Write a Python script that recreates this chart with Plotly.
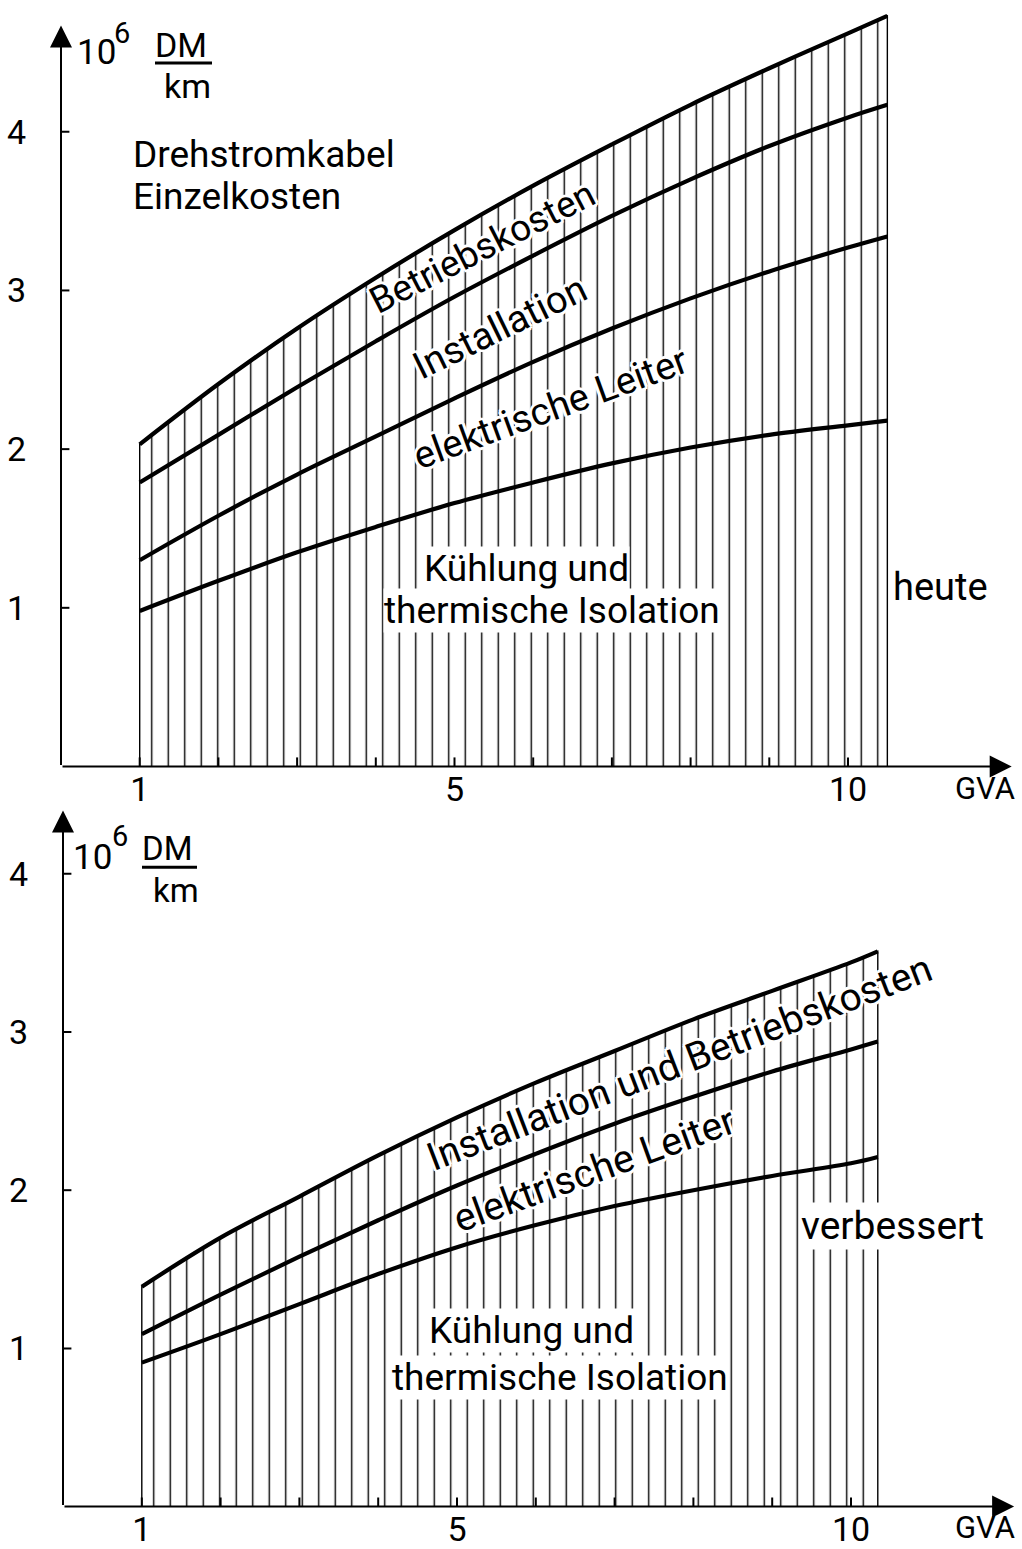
import plotly.graph_objects as go

# ---------------- data ----------------
gva_top = [1, 2, 3, 4, 5, 6, 7, 8, 9, 10, 10.5]
betrieb_top = [2.03, 2.41, 2.76, 3.08, 3.38, 3.66, 3.92, 4.17, 4.40, 4.62, 4.73]
install_top = [1.79, 2.09, 2.39, 2.68, 2.96, 3.22, 3.47, 3.70, 3.91, 4.09, 4.17]
leiter_top = [1.30, 1.58, 1.84, 2.08, 2.32, 2.55, 2.76, 2.95, 3.12, 3.27, 3.34]
kuehl_top = [0.98, 1.17, 1.35, 1.51, 1.66, 1.79, 1.91, 2.01, 2.09, 2.15, 2.18]

gva_bot = [1, 2, 3, 4, 5, 6, 7, 8, 9, 10, 10.34]
instbetr_bot = [1.39, 1.70, 1.96, 2.22, 2.46, 2.68, 2.88, 3.08, 3.26, 3.44, 3.51]
leiter_bot = [1.09, 1.34, 1.58, 1.81, 2.03, 2.23, 2.42, 2.59, 2.75, 2.89, 2.94]
kuehl_bot = [0.91, 1.09, 1.28, 1.47, 1.64, 1.78, 1.90, 2.00, 2.09, 2.17, 2.21]

y_tickvals = [1, 2, 3, 4]
x_tickvals = [1, 5, 10]
x_minor_ticks = [1, 2, 3, 4, 5, 6, 7, 8, 9, 10]

FONT = "Roboto"
W, H = 1022, 1549
HALO = ("2px 0 0 white, -2px 0 0 white, 0 2px 0 white, 0 -2px 0 white, "
        "2px 2px 0 white, -2px -2px 0 white, 2px -2px 0 white, -2px 2px 0 white, "
        "3px 0 0 white, -3px 0 0 white, 0 3px 0 white, 0 -3px 0 white")

fig = go.Figure()


def add_panel(xa, ya, gva, top, curves):
    # hatched area (vertical lines) from 0 up to the top curve
    fig.add_trace(go.Scatter(
        x=[gva[0]] + gva + [gva[-1]], y=[0] + top + [0],
        xaxis=xa, yaxis=ya, mode="lines", fill="toself",
        line=dict(color="black", width=1.4),
        fillcolor="white",
        fillpattern=dict(shape="|", size=16.5, solidity=0.085,
                         fgcolor="black", bgcolor="white", fillmode="replace"),
        hoverinfo="skip", showlegend=False))
    for c in [top] + curves:
        fig.add_trace(go.Scatter(
            x=gva, y=c, xaxis=xa, yaxis=ya, mode="lines",
            line=dict(color="black", width=4.2, shape="spline", smoothing=1.0),
            hoverinfo="skip", showlegend=False))
    # tick marks crossing the axes
    fig.add_trace(go.Scatter(
        x=x_minor_ticks, y=[0] * len(x_minor_ticks), xaxis=xa, yaxis=ya,
        mode="markers", marker=dict(symbol="line-ns", size=13,
                                    line=dict(color="black", width=2)),
        hoverinfo="skip", showlegend=False))
    fig.add_trace(go.Scatter(
        x=[0] * len(y_tickvals), y=y_tickvals, xaxis=xa, yaxis=ya,
        mode="markers", marker=dict(symbol="line-ew", size=12,
                                    line=dict(color="black", width=2)),
        hoverinfo="skip", showlegend=False))


add_panel("x", "y", gva_top, betrieb_top, [install_top, leiter_top, kuehl_top])
add_panel("x2", "y2", gva_bot, instbetr_bot, [leiter_bot, kuehl_bot])

axis_common = dict(showgrid=False, zeroline=False, showline=False, ticks="",
                   tickfont=dict(family=FONT, size=34, color="black"))

fig.update_layout(
    width=W, height=H, margin=dict(l=0, r=0, t=0, b=0),
    paper_bgcolor="white", plot_bgcolor="white", showlegend=False,
    xaxis=dict(domain=[61 / W, 1020 / W], range=[0, (1020 - 61) / 78.7],
               tickvals=x_tickvals, ticklabelstandoff=-1, anchor="y", **axis_common),
    yaxis=dict(domain=[1 - 768 / H, 1 - 5 / H], range=[0, (768 - 5) / 159.0],
               tickvals=y_tickvals, ticklabelstandoff=34, anchor="x", **axis_common),
    xaxis2=dict(domain=[63 / W, 1020 / W], range=[0, (1020 - 63) / 78.8],
                tickvals=x_tickvals, ticklabelstandoff=-1, anchor="y2", **axis_common),
    yaxis2=dict(domain=[1 - 1509.5 / H, 1 - 790 / H], range=[0, (1509.5 - 790) / 158.5],
                tickvals=y_tickvals, ticklabelstandoff=34, anchor="x2", **axis_common),
)

ann = []


def arrow(xr, yr, x, y):
    ann.append(dict(xref=xr, yref=yr, axref=xr, ayref=yr, x=x, y=y, ax=0, ay=0,
                    text="", showarrow=True, arrowhead=2, arrowsize=2.2,
                    arrowwidth=2, arrowcolor="black", standoff=0))


arrow("x", "y", 0, 4.67)
arrow("x", "y", 12.08, 0)
arrow("x2", "y2", 0, 4.40)
arrow("x2", "y2", 12.07, 0)


def label(xr, yr, x, y, text, size=36, angle=0, xanchor="center", bg=None, halo=False):
    font = dict(family=FONT, size=size, color="black")
    if halo:
        font["shadow"] = HALO
    d = dict(xref=xr, yref=yr, x=x, y=y, text=text, showarrow=False,
             textangle=angle, xanchor=xanchor, yanchor="middle",
             font=font, borderpad=0)
    if bg:
        d["bgcolor"] = bg
    ann.append(d)


# top panel
label("x", "y", 0.90, 3.855, "Drehstromkabel", size=37, xanchor="left")
label("x", "y", 0.90, 3.59, "Einzelkosten", size=37, xanchor="left")
label("x", "y", 5.35, 3.27, "Betriebskosten", size=37, angle=-27, halo=True)
label("x", "y", 5.58, 2.77, "Installation", size=38, angle=-26, halo=True)
label("x", "y", 6.22, 2.26, "elektrische Leiter", size=38, angle=-20, halo=True)
label("x", "y", 5.91, 1.245, "Kühlung und", size=37, bg="white")
label("x", "y", 6.24, 0.98, "thermische Isolation", size=37, bg="white")
label("x", "y", 11.18, 1.13, "heute", size=38)

# bottom panel
label("x2", "y2", 7.82, 2.805, "Installation und Betriebskosten", size=39, angle=-21, halo=True)
label("x2", "y2", 6.74, 2.13, "elektrische Leiter", size=39, angle=-20, halo=True)
label("x2", "y2", 5.94, 1.113, "Kühlung und", size=37, bg="white")
label("x2", "y2", 6.31, 0.817, "thermische Isolation", size=37, bg="white")
label("x2", "y2", 10.53, 1.776, "verbessert", size=39, bg="white")


# texts placed in paper coordinates (pixels from top-left)
def ptext(px, py, text, size):
    ann.append(dict(xref="paper", yref="paper", x=px / W, y=1 - py / H, text=text,
                    showarrow=False, xanchor="center", yanchor="middle",
                    font=dict(family=FONT, size=size, color="black")))


ptext(985, 790, "GVA", 31)
ptext(985, 1530, "GVA", 31)
ptext(96, 53, "10", 35)
ptext(122, 33, "6", 29)
ptext(181, 45, "DM", 34)
ptext(187, 86, "km", 34)
ptext(92, 859, "10", 35)
ptext(120, 838, "6", 29)
ptext(167, 850, "DM", 33)
ptext(176, 892, "km", 33)

fig.update_layout(annotations=ann)
fig.add_shape(type="line", xref="paper", yref="paper", x0=155 / W, x1=212 / W,
              y0=1 - 63 / H, y1=1 - 63 / H, line=dict(color="black", width=3))
fig.add_shape(type="line", xref="paper", yref="paper", x0=142 / W, x1=197 / W,
              y0=1 - 869 / H, y1=1 - 869 / H, line=dict(color="black", width=3))

fig.write_html("out.html", config={"displayModeBar": False},
               post_script="document.body.style.margin='0';")
